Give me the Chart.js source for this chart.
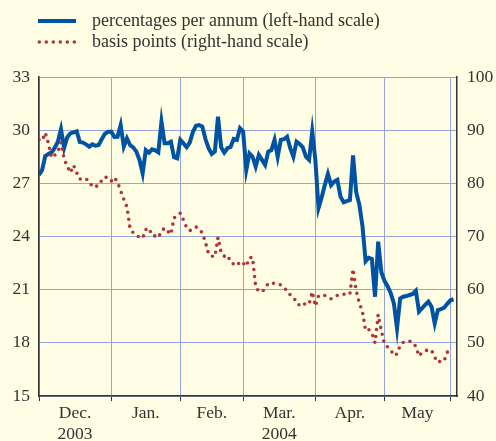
<!DOCTYPE html>
<html>
<head>
<meta charset="utf-8">
<script src="https://cdn.jsdelivr.net/npm/chart.js@4.4.0/dist/chart.umd.min.js"></script>
<style>
  html, body { margin: 0; padding: 0; background: #fffde3; }
  canvas { display: block; }
</style>
</head>
<body>
<canvas id="chart" width="496" height="441"></canvas>
<script>
// x = business-day index counted from 1 Dec 2003
const monthStarts = [0, 23, 45, 65, 88, 110, 131];
const monthLabels = [['Dec.', '2003'], 'Jan.', 'Feb.', ['Mar.', '2004'], 'Apr.', 'May'];
const leftTicks = [15, 18, 21, 24, 27, 30, 33];
const rightTicks = [40, 50, 60, 70, 80, 90, 100];

// percentages per annum (left-hand scale), one value per business day
const ratePct = [
  27.47, 27.75, 28.54, 28.66, 28.75, 29.0, 29.35, 30.05, 29.0, 29.6,
  29.82, 29.88, 29.94, 29.33, 29.3, 29.2, 29.07, 29.2, 29.12, 29.16,
  29.5, 29.8, 29.91, 29.91, 29.62, 29.63, 30.29, 29.07, 29.54, 29.16,
  29.03, 28.79, 28.32, 27.57, 28.88, 28.73, 28.92, 28.86, 28.75, 30.48,
  29.26, 29.26, 29.35, 28.47, 28.41, 29.45, 29.26, 29.04, 29.3, 29.9,
  30.25, 30.29, 30.2, 29.5, 28.98, 28.66, 28.8, 30.76, 29.03, 28.73,
  28.98, 29.05, 29.5, 29.45, 30.11, 29.92, 27.75, 28.69, 28.5, 27.94,
  28.6, 28.32, 28.04, 28.79, 28.88, 29.45, 28.5, 29.45, 29.49, 29.63,
  28.98, 28.5, 29.35, 29.22, 29.03, 28.5, 28.32, 29.92, 28.32, 25.6,
  26.2, 26.9, 27.53, 26.9, 27.1, 27.2, 26.25, 25.93, 26.0, 26.06,
  28.57, 26.5, 25.8, 24.6, 22.6, 22.8, 22.73, 20.6, 23.71, 22.0,
  21.5, 21.2, 20.8, 20.23, 18.82, 20.5, 20.6, 20.64, 20.7, 20.76,
  20.94, 19.76, 19.95, 20.15, 20.32, 20.04, 19.1, 19.85, 19.9, 19.98,
  20.2, 20.4, 20.46
];

// basis points (right-hand scale), one value per business day
const spreadBp = [
  88.2, 88.0, 89.5, 87.5, 84.8, 85.3, 85.9, 87.7, 84.6, 83.2,
  82.0, 83.4, 82.0, 80.8, 81.0, 80.8, 80.4, 79.3, 79.4, 79.6,
  80.6, 81.2, 81.0, 80.4, 81.1, 80.2, 78.6, 77.0, 75.6, 71.5,
  70.7, 70.2, 69.9, 69.7, 71.3, 71.6, 70.2, 70.1, 69.8, 71.0,
  71.6, 71.0, 70.4, 73.5, 73.9, 74.4, 73.1, 71.7, 71.1, 71.4,
  71.8, 71.3, 70.7, 68.9, 66.7, 66.3, 66.2, 69.8, 67.0, 66.3,
  66.5, 65.2, 64.8, 64.5, 65.3, 65.0, 64.4, 66.0, 66.1, 60.5,
  59.7, 59.6, 60.2, 61.2, 61.2, 61.2, 61.0, 60.9, 60.3, 59.9,
  59.0, 58.3, 58.0, 56.9, 57.2, 57.4, 57.3, 59.6, 56.9, 58.8,
  59.0, 58.9, 58.6, 58.3, 58.7, 58.9, 58.9, 59.1, 59.3, 59.2,
  63.9, 59.8, 57.5, 55.8, 52.3, 52.5, 51.8, 50.0, 55.3, 52.3,
  49.8, 49.2, 48.7, 47.6, 47.9, 49.5, 50.1, 50.3, 50.3, 50.1,
  49.3, 47.5, 48.2, 48.5, 48.7, 48.6, 47.3, 46.3, 46.6, 46.6,
  48.2, 49.2
];

const textColor = '#333333';
const gridBlue = '#93a5dc';
const axisColor = '#333333';
const blue = '#0053a2';
const red = '#b23436';

const midpoints = monthLabels.map((_, i) => (monthStarts[i] + monthStarts[i + 1]) / 2);

Chart.defaults.font.family = '"Liberation Serif", "Times New Roman", serif';
Chart.defaults.font.size = 17.5;
Chart.defaults.color = textColor;

// legend drawn by hand so the key sits where the original puts it
const seriesKey = {
  id: 'seriesKey',
  afterDraw(chart) {
    const ctx = chart.ctx;
    ctx.save();
    ctx.font = '18px "Liberation Serif", serif';
    ctx.fillStyle = textColor;
    ctx.textBaseline = 'alphabetic';
    chart.data.datasets.forEach((ds, i) => {
      const y = 21 + i * 21;
      ctx.beginPath();
      ctx.strokeStyle = ds.borderColor;
      ctx.lineWidth = ds.borderWidth;
      ctx.lineCap = ds.borderCapStyle || 'butt';
      ctx.setLineDash(ds.borderDash || []);
      ctx.moveTo(ds.borderDash ? 39.3 : 38, y);
      ctx.lineTo(76, y);
      ctx.stroke();
      ctx.setLineDash([]);
      ctx.fillText(ds.label, 92, y + 5);
    });
    ctx.restore();
  }
};

new Chart(document.getElementById('chart'), {
  type: 'line',
  data: {
    datasets: [
      {
        label: 'percentages per annum (left-hand scale)',
        data: ratePct.map((v, i) => ({ x: i, y: v })),
        yAxisID: 'y',
        borderColor: blue,
        borderWidth: 4,
        borderJoinStyle: 'miter',
        pointRadius: 0,
        tension: 0,
        order: 1
      },
      {
        label: 'basis points (right-hand scale)',
        data: spreadBp.map((v, i) => ({ x: i, y: v })),
        yAxisID: 'y2',
        borderColor: red,
        borderWidth: 3.6,
        borderDash: [0, 7],
        borderCapStyle: 'round',
        pointRadius: 0,
        tension: 0,
        order: 0
      }
    ]
  },
  options: {
    responsive: false,
    animation: false,
    devicePixelRatio: 1,
    layout: { padding: { top: 77, left: 0, right: 0, bottom: 0 } },
    plugins: {
      legend: { display: false },
      tooltip: { enabled: false }
    },
    scales: {
      x: {
        type: 'linear',
        min: 0,
        max: 133.1,
        afterBuildTicks(scale) {
          const ticks = [];
          monthStarts.forEach((v, i) => {
            ticks.push({ value: v });
            if (i < midpoints.length) ticks.push({ value: midpoints[i] });
          });
          scale.ticks = ticks;
        },
        afterFit(scale) { scale.height = 45; },
        ticks: {
          autoSkip: false,
          maxRotation: 0,
          padding: 2,
          callback(value) {
            const i = midpoints.indexOf(value);
            return i >= 0 ? monthLabels[i] : '';
          }
        },
        grid: {
          color: (ctx) => (ctx.tick && monthStarts.includes(ctx.tick.value) ? gridBlue : 'rgba(0,0,0,0)'),
          tickColor: (ctx) => (ctx.tick && monthStarts.includes(ctx.tick.value) ? axisColor : 'rgba(0,0,0,0)'),
          tickLength: 5,
          lineWidth: 1
        },
        border: { display: true, color: axisColor, width: 1.5 }
      },
      y: {
        position: 'left',
        min: 15,
        max: 33,
        afterBuildTicks(scale) { scale.ticks = leftTicks.map((v) => ({ value: v })); },
        afterFit(scale) { scale.width = 39; },
        ticks: { padding: 9 },
        grid: { color: gridBlue, lineWidth: 1, drawTicks: false },
        border: { display: true, color: axisColor, width: 1.5 }
      },
      y2: {
        position: 'right',
        min: 40,
        max: 100,
        afterBuildTicks(scale) { scale.ticks = rightTicks.map((v) => ({ value: v })); },
        afterFit(scale) { scale.width = 39; },
        ticks: { padding: 10 },
        grid: { display: false, drawTicks: false },
        border: { display: true, color: axisColor, width: 1.5 }
      }
    }
  },
  plugins: [seriesKey]
});
</script>
</body>
</html>
